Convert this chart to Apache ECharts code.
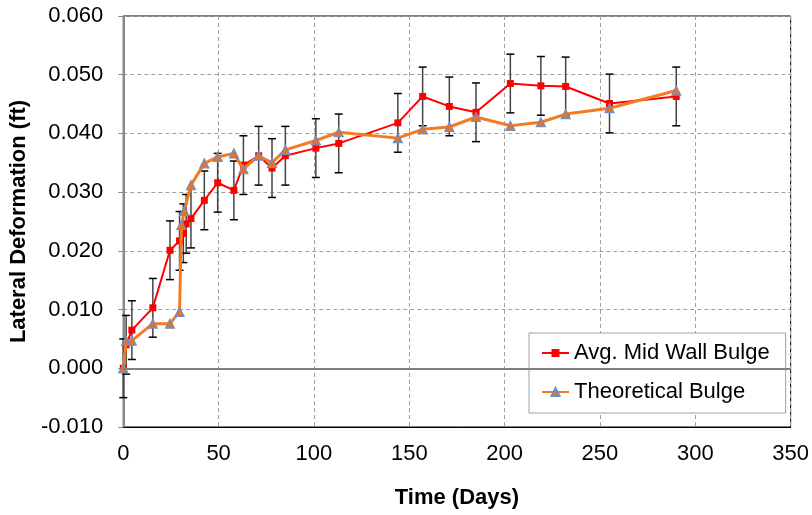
<!DOCTYPE html>
<html>
<head>
<meta charset="utf-8">
<script src="https://cdn.jsdelivr.net/npm/echarts@6/dist/echarts.min.js"></script>
<style>html,body{margin:0;padding:0;background:#fff}#c{width:812px;height:515px}</style>
</head>
<body>
<div id="c"></div>
<script>
var redDays = [0, 1.5, 4.5, 15.5, 24.5, 29.5, 31.5, 33, 35.5, 42.5, 49.5, 58, 63, 71, 78, 85, 101, 113, 144, 157, 171, 185, 203, 219, 232, 255, 290];
var redVals = [0.000, 0.0040, 0.0065, 0.0103, 0.0201, 0.0217, 0.0230, 0.0246, 0.0255, 0.0286, 0.0316, 0.0303, 0.0346, 0.0362, 0.0341, 0.0362, 0.0375, 0.0383, 0.0418, 0.0463, 0.0446, 0.0436, 0.0485, 0.0481, 0.0480, 0.0451, 0.0463];
var redErr = [0.005, 0.005, 0.005, 0.005, 0.005, 0.005, 0.005, 0.005, 0.005, 0.005, 0.005, 0.005, 0.005, 0.005, 0.005, 0.005, 0.005, 0.005, 0.005, 0.005, 0.005, 0.005, 0.005, 0.005, 0.005, 0.005, 0.005];
var theoDays = [0, 1.5, 4.5, 15.5, 24.5, 29.5, 30.5, 32, 35.5, 42.5, 49.5, 58, 63, 71, 78, 85, 101, 113, 144, 157, 171, 185, 203, 219, 232, 255, 290];
var theoVals = [0.000, 0.0047, 0.0047, 0.0076, 0.0076, 0.0096, 0.0244, 0.0268, 0.0312, 0.0349, 0.0360, 0.0366, 0.0339, 0.0362, 0.0350, 0.0372, 0.0388, 0.0402, 0.0392, 0.0407, 0.0411, 0.0428, 0.0413, 0.0419, 0.0433, 0.0443, 0.0473];
var seriesNames = ['Avg. Mid Wall Bulge', 'Theoretical Bulge'];

var redData = redDays.map(function (d, i) { return [d, redVals[i]]; });
var theoData = theoDays.map(function (d, i) { return [d, theoVals[i]]; });
var errData = redDays.map(function (d, i) { return [d, redVals[i] - redErr[i], redVals[i] + redErr[i]]; });

var chart = echarts.init(document.getElementById('c'));
var font = 'Liberation Sans, Arial, sans-serif';
chart.setOption({
  animation: false,
  backgroundColor: '#fff',
  grid: { left: 122, right: 19, top: 16, bottom: 88, show: true, borderColor: '#000', borderWidth: 1 },
  xAxis: {
    type: 'value', min: 0, max: 350, interval: 50,
    name: 'Time (Days)', nameLocation: 'middle', nameGap: 60,
    nameTextStyle: { fontFamily: font, fontSize: 22, fontWeight: 'bold', color: '#000' },
    axisLine: { onZero: false, show: true, lineStyle: { color: '#000', width: 1 } },
    axisTick: { show: false },
    axisLabel: { fontFamily: font, fontSize: 22, color: '#000', margin: 16 },
    splitLine: { show: true, lineStyle: { color: '#a0a0a0', type: [4, 3], width: 1 } }
  },
  yAxis: {
    type: 'value', min: -0.01, max: 0.06, interval: 0.01,
    name: 'Lateral Deformation (ft)', nameLocation: 'middle', nameGap: 84,
    nameTextStyle: { fontFamily: font, fontSize: 22, fontWeight: 'bold', color: '#000' },
    axisLine: { show: true, lineStyle: { color: '#888', width: 2 } },
    axisTick: { show: true, inside: false, length: 5, lineStyle: { color: '#888', width: 1 } },
    axisLabel: { fontFamily: font, fontSize: 22, color: '#000', margin: 20,
      formatter: function (v) { return (Math.round(v * 1000) / 1000).toFixed(3); } },
    splitLine: { show: true, lineStyle: { color: '#a0a0a0', type: [4, 3], width: 1 } }
  },
  legend: {
    left: 529, top: 333, orient: 'vertical',
    backgroundColor: '#fff', borderColor: '#a0a0a0', borderWidth: 1,
    padding: [9, 16, 10, 12], itemGap: 17, itemWidth: 27, itemHeight: 10,
    textStyle: { fontFamily: font, fontSize: 22, color: '#000', lineHeight: 22 },
    data: seriesNames
  },
  series: [
    {
      type: 'custom', name: 'err', z: 1, silent: true,
      data: errData,
      encode: { x: 0, y: [1, 2] },
      renderItem: function (params, api) {
        var x = api.value(0);
        var lo = api.coord([x, api.value(1)]);
        var hi = api.coord([x, api.value(2)]);
        var w = 4;
        return { type: 'group', children: [
          { type: 'line', shape: { x1: lo[0], y1: lo[1], x2: hi[0], y2: hi[1] }, style: { stroke: '#444', lineWidth: 1.5 } },
          { type: 'line', shape: { x1: lo[0] - w, y1: lo[1], x2: lo[0] + w, y2: lo[1] }, style: { stroke: '#000', lineWidth: 1.5 } },
          { type: 'line', shape: { x1: hi[0] - w, y1: hi[1], x2: hi[0] + w, y2: hi[1] }, style: { stroke: '#000', lineWidth: 1.5 } }
        ] };
      }
    },
    {
      type: 'line', name: seriesNames[0], z: 3, data: redData,
      symbol: 'rect', symbolSize: 7,
      lineStyle: { color: '#ff0000', width: 2 },
      itemStyle: { color: '#ff0000', borderWidth: 0 },
      markLine: {
        silent: true, symbol: 'none', label: { show: false },
        lineStyle: { color: '#808080', type: 'solid', width: 2 },
        data: [{ yAxis: 0 }]
      }
    },
    {
      type: 'line', name: seriesNames[1], z: 4, data: theoData,
      symbol: 'triangle', symbolSize: 9,
      lineStyle: { color: '#f47b20', width: 3 },
      itemStyle: { color: '#e8731e', borderColor: '#6b8fcf', borderWidth: 1.2 }
    }
  ]
});
</script>
</body>
</html>
